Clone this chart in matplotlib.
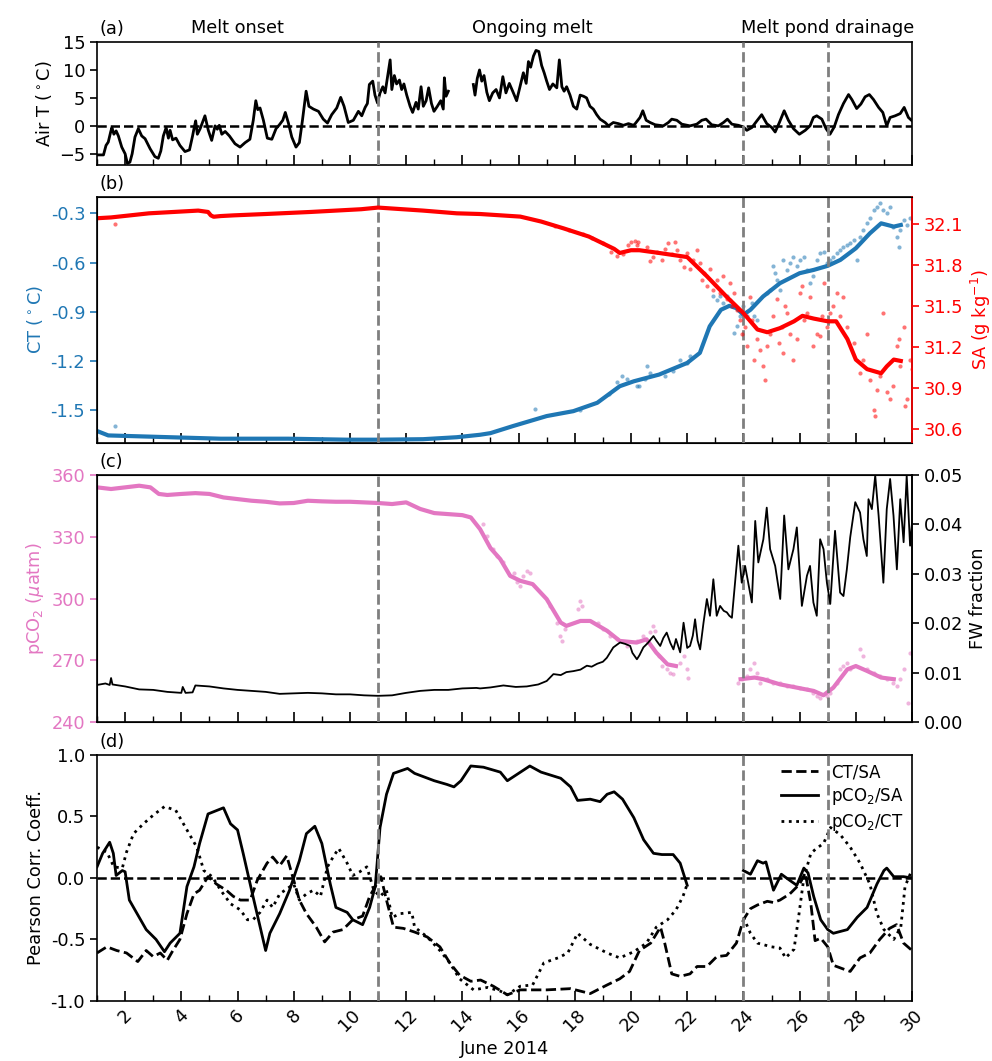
import numpy as np
import matplotlib
matplotlib.use('Agg')
import matplotlib.pyplot as plt
from matplotlib.ticker import FormatStrFormatter

plt.rcParams['font.family'] = ['DejaVu Sans']
plt.rcParams['font.size'] = 12.8

BLUE = '#1f77b4'
RED = '#ff0000'
PINK = '#e377c2'
GREY = '#7f7f7f'
EVENTS = [11, 24, 27]

# ---------------- (a) Air temperature ----------------
airT_day = [1.0, 1.23, 1.32, 1.40, 1.49, 1.53, 1.60, 1.68, 1.76, 1.88, 2.0, 2.08, 2.17, 2.25, 2.35, 2.47,
            2.59, 2.71, 2.89, 3.06, 3.18, 3.27, 3.36, 3.46, 3.54, 3.60, 3.69, 3.81, 3.95, 4.13, 4.29, 4.40,
            4.45, 4.51, 4.57, 4.67, 4.84, 4.96, 5.08, 5.20, 5.28, 5.35, 5.44, 5.56, 5.71, 5.91, 6.09, 6.27,
            6.44, 6.56, 6.65, 6.72, 6.80, 6.92, 7.06, 7.22, 7.37, 7.49, 7.61, 7.70, 7.81, 7.93, 8.08, 8.20,
            8.31, 8.44, 8.54, 8.70, 8.88, 9.05, 9.20, 9.35, 9.53, 9.67, 9.79, 9.94, 10.12, 10.30, 10.42,
            10.54, 10.62, 10.69, 10.81, 10.89, 10.98, 11.07, 11.17, 11.25, 11.33, 11.43, 11.49, 11.58,
            11.66, 11.76, 11.84, 11.92, 12.02, 12.14, 12.23, 12.35, 12.43, 12.53, 12.61, 12.71, 12.80,
            12.90, 12.99, 13.11, 13.23, 13.32, 13.36, 13.42, 13.50, 13.55,
            14.39, 14.45, 14.53, 14.61, 14.69, 14.77, 14.87, 14.96, 15.08, 15.20, 15.32, 15.44, 15.55,
            15.67, 15.79, 15.93, 16.05, 16.17, 16.27, 16.35, 16.43, 16.53, 16.62, 16.72, 16.82, 16.91,
            17.00, 17.10, 17.22, 17.36, 17.45, 17.54, 17.62, 17.71, 17.83, 17.95, 18.07, 18.19, 18.31,
            18.42, 18.54, 18.66, 18.78, 18.90, 19.08, 19.20, 19.37, 19.55, 19.73, 19.91, 20.09, 20.15,
            20.32, 20.42, 20.54, 20.68, 20.86, 21.15, 21.33, 21.45, 21.63, 21.81, 22.10, 22.34, 22.52,
            22.67, 22.87, 23.11, 23.29, 23.43, 23.59, 23.82, 24.00, 24.12, 24.30, 24.48, 24.65, 24.83,
            25.01, 25.13, 25.28, 25.45, 25.60, 25.78, 25.99, 26.20, 26.37, 26.49, 26.61, 26.79, 26.94,
            27.08, 27.23, 27.38, 27.56, 27.74, 27.86, 28.03, 28.18, 28.33, 28.48, 28.63, 28.81, 28.96,
            29.10, 29.22, 29.40, 29.58, 29.72, 29.87, 30.0]
airT_val = [-5.2, -5.2, -3.5, -2.9, -1.0, -0.3, -1.5, -0.9, -1.8, -3.8, -5.0, -6.7, -6.5, -5.0, -2.0, -0.5,
            -1.8, -2.3, -4.1, -5.5, -5.8, -4.5, -1.8, -0.3, -2.2, -0.8, -2.5, -2.2, -3.5, -4.6, -4.3, -1.8,
            -0.5, 0.9, -1.5, -0.5, 1.8, -0.8, -2.6, 0.0, -0.6, 0.1, -1.5, -1.0, -1.8, -3.2, -3.8, -3.0,
            -2.4, 1.0, 4.5, 2.9, 3.2, 1.0, -2.2, -2.4, -0.5, 0.2, 1.0, 2.4, 0.5, -2.0, -3.8, -3.0,
            1.0, 6.2, 3.5, 3.0, 2.6, 1.2, 0.5, 2.0, 3.2, 5.1, 3.5, 0.6, 1.0, 2.6, 1.8,
            3.3, 4.0, 7.4, 8.0, 5.5, 4.1, 5.9, 7.0, 5.9, 8.5, 11.8, 6.5, 9.0,
            7.5, 8.2, 6.5, 7.5, 5.5, 3.5, 2.4, 4.2, 3.0, 7.0, 3.5, 4.5, 6.8,
            4.0, 2.6, 3.5, 4.5, 3.0, 8.6, 5.3, 6.2, np.nan,
            7.4, 5.5, 8.5, 10.0, 8.0, 9.0, 6.0, 4.5, 5.9, 6.5, 5.0, 8.8, 5.9,
            7.6, 6.2, 4.5, 7.0, 9.5, 7.6, 11.5, 10.5, 12.5, 13.5, 13.3, 10.8, 9.5,
            8.0, 6.5, 7.5, 6.8, 11.8, 7.0, 6.2, 7.0, 5.5, 3.5, 3.0, 5.5, 5.3,
            5.0, 3.5, 3.0, 2.0, 1.2, 0.6, 0.0, 0.6, 0.4, 0.1, 0.4, 0.1, 0.4,
            1.5, 2.7, 1.0, 0.6, 0.2, 0.0, 0.6, 1.2, 1.0, 0.3, 0.0, 0.3, 1.0,
            1.2, 0.2, 0.0, 0.6, 1.2, 0.3, 0.1, -0.2, -0.8, -0.3, 0.9, 2.0, 0.4,
            -0.3, -1.1, 0.6, 2.7, 1.0, -0.5, -1.5, -0.8, 0.0, 1.5, 1.8, 1.2, -0.5,
            -1.5, -0.2, 2.0, 4.0, 5.6, 4.7, 3.1, 3.9, 5.2, 5.6, 4.7, 3.3, 2.4,
            0.0, 1.5, 1.8, 2.2, 3.3, 1.5, 0.9]

# ---------------- (b) CT and SA ----------------
sa_line_day = [1.0, 1.5, 2.85, 4.6, 4.95, 5.05, 5.15, 5.4, 5.85, 7.0, 8.6, 10.4, 11.0, 12.6, 13.8, 14.63,
               16.06, 16.8, 17.6, 18.5, 19.4, 19.6, 20.0, 20.3, 21.0, 22.0, 22.7, 23.4, 24.0, 24.5, 24.85,
               25.3, 25.8, 26.1, 26.5, 27.0, 27.3, 27.7, 28.0, 28.4, 28.9, 29.1, 29.35, 29.6]
sa_line_val = [32.144, 32.15, 32.18, 32.20, 32.19, 32.165, 32.155, 32.16, 32.165, 32.175, 32.19, 32.21,
               32.222, 32.20, 32.18, 32.175, 32.156, 32.12, 32.07, 32.01, 31.92, 31.89, 31.91, 31.91,
               31.89, 31.86, 31.72, 31.57, 31.45, 31.33, 31.31, 31.34, 31.39, 31.43, 31.41, 31.39, 31.39,
               31.26, 31.11, 31.04, 31.01, 31.06, 31.11, 31.10]
sa_pts_day = [1.64, 17.3, 17.8, 18.3, 18.6, 19.0, 19.3, 19.5, 19.7, 19.9, 20.0,
              20.15, 20.26, 20.21, 20.56, 20.68, 20.80, 20.92, 21.10, 21.21, 21.33, 21.45, 21.57, 21.63,
              21.75, 21.87, 21.98, 22.10, 22.22, 22.34, 22.46, 22.52, 22.58, 22.70, 22.81, 22.93, 23.05,
              23.17, 23.29, 23.41, 23.53, 23.59, 23.65, 23.76, 23.88, 23.94, 24.06, 24.12, 24.24, 24.30,
              24.36, 24.48, 24.59, 24.71, 24.77, 24.83, 24.95, 25.07, 25.19, 25.25, 25.37, 25.42, 25.48,
              25.54, 25.66, 25.78, 25.90, 26.02, 26.08, 26.14, 26.26, 26.37, 26.49, 26.61, 26.73, 26.79,
              26.85, 26.97, 27.09, 27.20, 27.32, 27.44, 27.56, 27.68, 27.92, 28.15, 28.27, 28.39, 28.51,
              28.63, 28.69, 28.75, 28.86, 28.98, 29.10, 29.22, 29.34, 29.46, 29.52, 29.58, 29.70, 29.75,
              29.81, 29.93, 29.99]
sa_pts_val = [32.10, 32.09, 32.06, 32.03, 32.00, 31.96, 31.90, 31.87, 31.88, 31.95, 31.97,
              31.98, 31.97, 31.95, 31.93, 31.83, 31.86, 31.90, 31.84, 31.92, 31.96, 31.88, 31.97, 31.91,
              31.84, 31.79, 31.89, 31.77, 31.84, 31.91, 31.82, 31.69, 31.74, 31.65, 31.77, 31.62, 31.69,
              31.60, 31.72, 31.55, 31.67, 31.50, 31.60, 31.47, 31.40, 31.30, 31.35, 31.21, 31.57, 31.40,
              31.11, 31.26, 31.18, 31.06, 30.96, 31.21, 31.30, 31.43, 31.55, 31.23, 31.35, 31.16, 31.50,
              31.45, 31.30, 31.11, 31.26, 31.60, 31.65, 31.40, 31.45, 31.57, 31.21, 31.30, 31.28, 31.43,
              31.67, 31.35, 31.45, 31.50, 31.60, 31.43, 31.57, 31.35, 31.23, 31.01, 31.11, 31.30, 30.96,
              30.74, 30.70, 30.89, 30.99, 31.45, 30.87, 30.82, 30.92, 31.21, 31.26, 31.06, 31.35, 30.77,
              30.82, 31.11, 31.04]

ct_line_day = [1.0, 1.4, 3.0, 5.4, 7.8, 9.9, 11.0, 12.6, 13.8, 14.63, 15.0, 15.8, 17.0, 17.95, 18.8,
               19.6, 20.1, 21.0, 22.0, 22.45, 22.8, 23.2, 23.5, 23.75, 24.0, 24.25, 24.7, 25.3, 26.0,
               26.5, 27.0, 27.45, 28.0, 28.5, 28.9, 29.35, 29.6]
ct_line_val = [-1.627, -1.654, -1.662, -1.674, -1.674, -1.68, -1.68, -1.677, -1.665, -1.65, -1.64,
               -1.597, -1.536, -1.506, -1.455, -1.354, -1.324, -1.283, -1.212, -1.151, -0.989, -0.888,
               -0.864, -0.878, -0.918, -0.888, -0.807, -0.726, -0.665, -0.645, -0.62, -0.584, -0.513,
               -0.422, -0.361, -0.381, -0.371]
ct_pts_day = [1.64, 16.6, 18.2, 19.2, 19.5, 20.3, 20.5, 21.2, 21.5,
              19.67, 19.85, 20.21, 20.56, 20.68, 21.75, 21.98, 22.10, 22.93, 23.05, 23.17, 23.29, 23.41,
              23.53, 23.65, 23.76, 23.88, 24.00, 24.12, 24.30, 24.36, 24.48, 24.83, 24.95, 25.07, 25.13,
              25.19, 25.31, 25.42, 25.54, 25.66, 25.78, 25.90, 26.02, 26.14, 26.26, 26.37, 26.49, 26.61,
              26.73, 26.85, 26.97, 27.09, 27.20, 27.32, 27.44, 27.56, 27.68, 27.80, 27.92, 28.03, 28.15,
              28.27, 28.39, 28.51, 28.63, 28.75, 28.86, 28.98, 29.10, 29.22, 29.34, 29.46, 29.52, 29.58,
              29.70, 29.81, 29.93]
ct_pts_val = [-1.599, -1.49, -1.50, -1.40, -1.33, -1.35, -1.31, -1.29, -1.26,
              -1.293, -1.313, -1.354, -1.232, -1.273, -1.192, -1.212, -1.172, -0.807, -0.827, -0.807,
              -0.847, -0.807, -0.827, -1.030, -0.989, -0.928, -0.868, -0.928, -0.847, -0.928, -0.949,
              -0.786, -0.766, -0.624, -0.665, -0.705, -0.766, -0.584, -0.645, -0.604, -0.564, -0.624,
              -0.584, -0.564, -0.645, -0.726, -0.685, -0.584, -0.543, -0.533, -0.604, -0.584, -0.564,
              -0.543, -0.523, -0.503, -0.493, -0.482, -0.462, -0.584, -0.442, -0.401, -0.361, -0.330,
              -0.280, -0.259, -0.239, -0.280, -0.300, -0.259, -0.381, -0.442, -0.503, -0.401, -0.341,
              -0.371, -0.330]

# ---------------- (c) pCO2 and FW fraction ----------------
pco2_line_day = [1.0, 1.5, 2.0, 2.5, 2.9, 3.2, 3.5, 4.0, 4.5, 5.0, 5.5, 6.0, 6.5, 7.0, 7.5, 8.0, 8.5,
                 9.0, 9.5, 10.0, 10.5, 11.0, 11.5, 12.0, 12.5, 13.0, 13.5, 14.0, 14.3, 14.63, 15.0, 15.35,
                 15.7, 16.06, 16.5, 17.0, 17.5, 17.7, 18.2, 18.55, 19.15, 19.6, 20.2, 20.55, 20.9, 21.3,
                 21.6, 21.7, 23.9, 24.4, 24.7, 25.3, 25.9, 26.5, 26.85, 27.2, 27.7, 28.0, 28.4, 28.9,
                 29.35]
pco2_line_val = [354.0, 353.2, 354.0, 354.8, 354.0, 350.8, 350.3, 350.8, 351.2, 350.8, 349.1, 348.3,
                 347.5, 347.0, 346.2, 346.4, 347.5, 347.2, 347.0, 347.0, 346.7, 346.4, 345.9, 346.7,
                 343.5, 341.5, 341.0, 340.5, 339.4, 333.7, 324.5, 319.1, 311.0, 308.6, 307.0, 299.7,
                 288.3, 286.7, 289.1, 289.1, 284.3, 279.4, 278.6, 280.2, 273.7, 268.0, 267.2, np.nan,
                 260.8, 261.6, 260.8, 258.3, 256.7, 255.1, 253.0, 256.7, 265.6, 267.2, 264.8, 261.6,
                 260.8]
pco2_pts_day = [14.75, 14.87, 15.10, 15.22, 15.46, 15.82, 15.93, 16.05, 16.17, 16.29, 16.41, 17.12,
                17.36, 17.48, 17.54, 17.65, 18.13, 18.19, 18.25, 18.84, 19.02, 19.26, 19.49, 19.85,
                20.21, 20.44, 20.68, 20.80, 20.86, 20.98, 21.10, 21.27, 21.39, 21.51, 21.75, 21.87,
                21.98, 22.04, 23.82, 23.94, 24.12, 24.24, 24.36, 24.48, 24.59, 24.83, 25.07, 25.31,
                25.54, 25.78, 26.02, 26.26, 26.49, 26.61, 26.73, 26.97, 27.09, 27.32, 27.44, 27.56,
                27.68, 27.80, 28.15, 28.27, 28.39, 28.63, 28.86, 29.10, 29.34, 29.46, 29.58, 29.70,
                29.87, 29.93]
pco2_pts_val = [336.2, 330.5, 324.0, 320.8, 317.5, 312.6, 307.8, 306.2, 311.0, 313.5, 312.6, 296.4,
                288.3, 281.8, 279.4, 285.1, 294.8, 298.9, 296.4, 288.3, 285.1, 281.8, 280.2, 277.0,
                279.4, 281.8, 283.5, 286.7, 284.3, 272.1, 267.2, 265.6, 264.0, 263.2, 268.9, 272.1,
                265.6, 261.6, 259.1, 260.8, 262.4, 265.6, 268.9, 264.0, 259.1, 260.8, 259.1, 259.1,
                257.5, 257.5, 256.7, 255.9, 254.3, 252.6, 251.8, 252.6, 254.3, 259.1, 265.6, 267.2,
                268.9, 265.6, 275.4, 272.1, 265.6, 264.0, 262.4, 260.8, 259.1, 257.5, 260.8, 265.6,
                249.4, 273.7]

fw_day = [1.0, 1.3, 1.45, 1.5, 1.55, 2.0, 2.5, 3.0, 3.5, 4.0, 4.05, 4.15, 4.4, 4.5, 5.0, 5.5, 6.0,
          6.5, 7.0, 7.5, 8.0, 8.5, 9.0, 9.5, 10.0, 10.5, 11.0, 11.5, 12.0, 12.5, 13.0, 13.5, 14.0,
          14.5, 14.63, 15.0, 15.46, 15.9, 16.29, 16.7, 17.0, 17.24, 17.5, 17.7, 17.95, 18.2, 18.43,
          18.6, 18.8, 19.0, 19.14, 19.37, 19.61, 19.8, 19.97, 20.05, 20.21, 20.3, 20.44, 20.6, 20.80,
          20.9, 21.04, 21.15, 21.27, 21.4, 21.51, 21.6, 21.75, 21.87, 22.0, 22.10, 22.2, 22.28, 22.37,
          22.46, 22.58, 22.70, 22.81, 22.93, 23.05, 23.17, 23.3, 23.41, 23.5, 23.59, 23.70, 23.82,
          23.94, 24.06, 24.30, 24.42, 24.53, 24.71, 24.83, 24.95, 25.13, 25.31, 25.45, 25.60, 25.78,
          25.90, 26.08, 26.26, 26.37, 26.49, 26.61, 26.73, 26.85, 26.97, 27.09, 27.26, 27.44, 27.56,
          27.68, 27.80, 27.98, 28.15, 28.27, 28.39, 28.45, 28.57, 28.69, 28.81, 28.98, 29.10, 29.22,
          29.34, 29.46, 29.58, 29.70, 29.81, 29.93, 30.0]
fw_val = [0.0075, 0.0078, 0.0075, 0.0089, 0.0076, 0.0072, 0.0066, 0.0065, 0.0061, 0.0059, 0.0071,
          0.0059, 0.0060, 0.0074, 0.0072, 0.0068, 0.0065, 0.0063, 0.0061, 0.0057, 0.0058, 0.0059,
          0.0058, 0.0056, 0.0056, 0.0054, 0.0053, 0.0054, 0.0059, 0.0063, 0.0065, 0.0065, 0.0068,
          0.0069, 0.0068, 0.0070, 0.0074, 0.0071, 0.0072, 0.0076, 0.0083, 0.0097, 0.0095, 0.0101,
          0.0103, 0.0106, 0.0114, 0.0112, 0.0118, 0.0122, 0.0130, 0.0151, 0.0161, 0.0158, 0.0154,
          0.0140, 0.0127, 0.0135, 0.0151, 0.0160, 0.0174, 0.0165, 0.0154, 0.0170, 0.0181, 0.0160,
          0.0147, 0.0168, 0.0141, 0.0201, 0.0150, 0.0154, 0.0175, 0.0208, 0.0165, 0.0147, 0.0201,
          0.0249, 0.0215, 0.0289, 0.0215, 0.0235, 0.0225, 0.0222, 0.0215, 0.0211, 0.0282, 0.0357,
          0.0282, 0.0316, 0.0242, 0.0407, 0.0323, 0.0370, 0.0434, 0.0350, 0.0316, 0.0249, 0.0418,
          0.0309, 0.0350, 0.0394, 0.0235, 0.0296, 0.0316, 0.0242, 0.0215, 0.0370, 0.0350, 0.0282,
          0.0239, 0.0387, 0.0262, 0.0255, 0.0309, 0.0374, 0.0445, 0.0424, 0.0370, 0.0336, 0.0451,
          0.0431, 0.0499, 0.0418, 0.0282, 0.0431, 0.0492, 0.0418, 0.0309, 0.0451, 0.0364, 0.0499,
          0.0357, 0.0404]

# ---------------- (d) correlation coefficients ----------------
r_pco2_sa_day = [1.0, 1.2, 1.45, 1.58, 1.68, 1.9, 2.0, 2.15, 2.5, 2.75, 3.1, 3.4, 3.6, 3.95, 4.2, 4.45,
                 4.65, 4.95, 5.5, 5.75, 6.0, 6.2, 6.55, 7.0, 7.15, 7.5, 7.85, 8.2, 8.45, 8.75, 9.0, 9.3,
                 9.5, 9.9, 10.1, 10.45, 10.7, 10.9, 11.07, 11.3, 11.55, 12.05, 12.3, 13.0, 13.45, 13.7,
                 13.95, 14.3, 14.75, 15.35, 15.6, 15.8, 16.4, 16.8, 17.5, 17.85, 18.1, 18.55, 18.9,
                 19.15, 19.4, 19.7, 20.1, 20.45, 20.8, 21.1, 21.5, 21.75, 22.0, 22.05, 24.0, 24.25,
                 24.5, 24.7, 24.8, 25.07, 25.35, 25.65, 25.9, 26.15, 26.3, 26.5, 26.75, 27.0, 27.2,
                 27.7, 28.05, 28.4, 28.75, 29.0, 29.1, 29.35, 29.7, 30.0]
r_pco2_sa_val = [0.09, 0.2, 0.29, 0.2, 0.02, 0.06, 0.05, -0.18, -0.32, -0.42, -0.5, -0.6, -0.53, -0.45,
                 -0.07, 0.09, 0.28, 0.52, 0.57, 0.44, 0.39, 0.2, -0.15, -0.59, -0.45, -0.29, -0.1, 0.14,
                 0.36, 0.42, 0.28, -0.05, -0.24, -0.28, -0.34, -0.38, -0.24, -0.07, 0.41, 0.68, 0.85,
                 0.89, 0.85, 0.79, 0.76, 0.74, 0.79, 0.91, 0.9, 0.86, 0.79, 0.82, 0.91, 0.86, 0.81, 0.74,
                 0.63, 0.64, 0.62, 0.68, 0.7, 0.64, 0.49, 0.31, 0.2, 0.19, 0.19, 0.12, -0.06, np.nan,
                 0.06, 0.03, 0.14, 0.12, 0.13, -0.1, 0.03, -0.02, -0.06, 0.08, 0.04, -0.15, -0.34,
                 -0.42, -0.45, -0.42, -0.32, -0.24, -0.05, 0.06, 0.08, 0.01, 0.01, 0.0]

r_ct_sa_day = [1.0, 1.35, 1.7, 2.05, 2.45, 2.75, 3.0, 3.25, 3.5, 3.7, 3.95, 4.2, 4.45, 4.65, 4.95, 5.25,
               5.6, 5.85, 6.1, 6.45, 6.7, 7.05, 7.25, 7.5, 7.75, 8.0, 8.2, 8.45, 8.8, 9.1, 9.4, 9.75,
               10.1, 10.45, 10.7, 10.95, 11.1, 11.3, 11.55, 11.9, 12.3, 12.75, 13.2, 13.55, 13.9, 14.3,
               14.65, 15.1, 15.6, 16.06, 17.0, 17.85, 18.55, 19.15, 19.6, 19.95, 20.3, 20.7, 21.05,
               21.2, 21.45, 21.75, 22.1, 22.35, 22.7, 23.05, 23.4, 23.75, 24.0, 24.25, 24.5, 24.85,
               25.07, 25.3, 25.65, 26.0, 26.2, 26.4, 26.55, 26.75, 27.0, 27.2, 27.55, 27.8, 28.15, 28.5,
               28.85, 29.2, 29.45, 29.7, 30.0]
r_ct_sa_val = [-0.61, -0.56, -0.59, -0.61, -0.68, -0.59, -0.64, -0.61, -0.67, -0.59, -0.5, -0.29, -0.13,
               -0.1, 0.01, -0.05, -0.1, -0.15, -0.18, -0.18, -0.02, 0.12, 0.17, 0.1, 0.18, -0.02,
               -0.18, -0.29, -0.4, -0.52, -0.44, -0.42, -0.34, -0.31, -0.15, -0.05, 0.01, -0.18, -0.4,
               -0.41, -0.44, -0.48, -0.56, -0.69, -0.79, -0.84, -0.83, -0.88, -0.95, -0.91, -0.91,
               -0.9, -0.94, -0.87, -0.82, -0.76, -0.59, -0.53, -0.4, -0.53, -0.78, -0.8, -0.78, -0.72,
               -0.72, -0.64, -0.63, -0.53, -0.34, -0.25, -0.22, -0.19, -0.2, -0.18, -0.13, -0.05, 0.04,
               -0.21, -0.51, -0.49, -0.56, -0.71, -0.74, -0.76, -0.65, -0.61, -0.5, -0.41, -0.38,
               -0.53, -0.59]

r_pco2_ct_day = [1.0, 1.35, 1.6, 1.9, 2.05, 2.3, 2.65, 3.0, 3.4, 3.8, 4.2, 4.55, 4.8, 5.1, 5.4, 5.75,
                 6.1, 6.35, 6.55, 6.8, 7.05, 7.25, 7.5, 7.75, 8.0, 8.2, 8.45, 8.7, 8.95, 9.2, 9.4, 9.6,
                 9.9, 10.1, 10.35, 10.6, 10.85, 11.07, 11.3, 11.5, 11.8, 12.2, 12.3, 12.75, 13.2, 13.55,
                 13.9, 14.4, 14.9, 15.35, 15.6, 16.06, 16.5, 16.9, 17.4, 17.75, 18.1, 18.55, 19.15,
                 19.6, 20.1, 20.55, 20.9, 21.3, 21.6, 21.85, 22.0, 22.05, 24.0, 24.25, 24.5, 25.0, 25.3,
                 25.5, 25.8, 25.95, 26.15, 26.4, 26.6, 26.85, 27.1, 27.45, 27.8, 28.15, 28.5, 28.75,
                 29.0, 29.35, 29.6, 29.75, 29.95]
r_pco2_ct_val = [0.25, 0.21, 0.09, 0.08, 0.21, 0.36, 0.44, 0.51, 0.58, 0.55, 0.39, 0.25, 0.06, 0.01,
                 -0.1, -0.21, -0.26, -0.34, -0.34, -0.28, -0.18, -0.24, -0.13, -0.09, -0.05, -0.18,
                 -0.13, -0.1, -0.15, 0.09, 0.17, 0.24, 0.12, 0.02, 0.05, 0.09, -0.1, -0.15, -0.1, -0.32,
                 -0.29, -0.28, -0.4, -0.48, -0.59, -0.69, -0.82, -0.91, -0.89, -0.92, -0.95, -0.88,
                 -0.87, -0.69, -0.65, -0.61, -0.45, -0.54, -0.61, -0.65, -0.6, -0.53, -0.4, -0.34,
                 -0.26, -0.15, -0.05, np.nan, -0.32, -0.45, -0.53, -0.56, -0.57, -0.65, -0.58, -0.34,
                 0.0, 0.2, 0.24, 0.28, 0.41, 0.35, 0.25, 0.12, -0.05, -0.29, -0.42, -0.5, -0.4, -0.07,
                 0.04]

x_ticks = list(range(2, 31, 2))
x_minor = list(range(1, 31, 2))

# ---------------- figure ----------------
fig = plt.figure(figsize=(9.92, 10.61), dpi=100)
L, W = 0.0978, 0.8216
axa = fig.add_axes([L, 0.8445, W, 0.1159])
axb = fig.add_axes([L, 0.5825, W, 0.2319])
axc = fig.add_axes([L, 0.3195, W, 0.2328])
axd = fig.add_axes([L, 0.0566, W, 0.2319])


def style_x(ax, labels=False):
    ax.set_xlim(1, 30)
    ax.set_xticks(x_ticks)
    ax.set_xticks(x_minor, minor=True)
    ax.tick_params(axis='x', which='major', direction='in', length=7, width=1.2)
    ax.tick_params(axis='x', which='minor', direction='in', length=4, width=1.0)
    if not labels:
        ax.set_xticklabels([])
    for s in ax.spines.values():
        s.set_linewidth(1.2)
    for e in EVENTS:
        ax.axvline(e, color=GREY, ls='--', lw=2, zorder=5)


for ax in (axa, axb, axc, axd):
    ax.tick_params(axis='y', direction='out', length=5, width=1.2)

# (a)
axa.plot(airT_day, airT_val, color='black', lw=2)
axa.axhline(0, color='black', ls='--', lw=1.8)
axa.set_ylim(-7, 15)
axa.set_yticks([-5, 0, 5, 10, 15])
axa.set_ylabel('Air T ($^\\circ$C)')
style_x(axa)
axa.text(6.0, 15.9, 'Melt onset', ha='center', va='bottom')
axa.text(16.5, 15.9, 'Ongoing melt', ha='center', va='bottom')
axa.text(27.0, 15.9, 'Melt pond drainage', ha='center', va='bottom')

# (b)
axb.plot(ct_line_day, ct_line_val, color=BLUE, lw=3)
axb.scatter(ct_pts_day, ct_pts_val, s=9, color=BLUE, alpha=0.55, lw=0)
axb.set_ylim(-1.7, -0.2)
axb.set_yticks([-1.5, -1.2, -0.9, -0.6, -0.3])
axb.yaxis.set_major_formatter(FormatStrFormatter('%.1f'))
axb.tick_params(axis='y', colors=BLUE)
axb.set_ylabel('CT ($^\\circ$C)', color=BLUE)
style_x(axb)
axb2 = axb.twinx()
axb2.plot(sa_line_day, sa_line_val, color=RED, lw=3)
axb2.scatter(sa_pts_day, sa_pts_val, s=9, color=RED, alpha=0.55, lw=0)
axb2.set_ylim(30.5, 32.3)
axb2.set_yticks([30.6, 30.9, 31.2, 31.5, 31.8, 32.1])
axb2.yaxis.set_major_formatter(FormatStrFormatter('%.1f'))
axb2.tick_params(axis='y', colors=RED, direction='out', length=5, width=1.2)
axb2.spines['right'].set_color(RED)
axb2.spines['right'].set_linewidth(1.2)
axb2.set_ylabel('SA (g kg$^{-1}$)', color=RED)

# (c)
axc.plot(pco2_line_day, pco2_line_val, color=PINK, lw=3)
axc.scatter(pco2_pts_day, pco2_pts_val, s=9, color=PINK, alpha=0.55, lw=0)
axc.set_ylim(240, 360)
axc.set_yticks([240, 270, 300, 330, 360])
axc.tick_params(axis='y', colors=PINK)
axc.set_ylabel('pCO$_2$ ($\\mu$atm)', color=PINK)
style_x(axc)
axc2 = axc.twinx()
axc2.plot(fw_day, fw_val, color='black', lw=1.3)
axc2.set_ylim(0, 0.05)
axc2.set_yticks([0, 0.01, 0.02, 0.03, 0.04, 0.05])
axc2.yaxis.set_major_formatter(FormatStrFormatter('%.2f'))
axc2.tick_params(axis='y', direction='out', length=5, width=1.2)
axc2.spines['right'].set_linewidth(1.2)
axc2.set_ylabel('FW fraction')

# (d)
axd.plot(r_ct_sa_day, r_ct_sa_val, color='black', ls='--', lw=2, label='CT/SA')
axd.plot(r_pco2_sa_day, r_pco2_sa_val, color='black', ls='-', lw=2, label='pCO$_2$/SA')
axd.plot(r_pco2_ct_day, r_pco2_ct_val, color='black', ls=':', lw=2, label='pCO$_2$/CT')
axd.axhline(0, color='black', ls='--', lw=1.8)
axd.set_ylim(-1, 1)
axd.set_yticks([-1, -0.5, 0, 0.5, 1])
axd.yaxis.set_major_formatter(FormatStrFormatter('%.1f'))
axd.set_ylabel('Pearson Corr. Coeff.')
style_x(axd, labels=True)
for lab in axd.get_xticklabels():
    lab.set_rotation(45)
axd.set_xlabel('June 2014')
axd.legend(loc='upper right', frameon=False, fontsize=12, handlelength=2.2,
           borderaxespad=0.1, labelspacing=0.3)

for ax, t in zip((axa, axb, axc, axd), ('(a)', '(b)', '(c)', '(d)')):
    ax.annotate(t, xy=(0, 1), xycoords='axes fraction', xytext=(2, 3),
                textcoords='offset points', ha='left', va='bottom')

fig.savefig('out.png', dpi=100)
